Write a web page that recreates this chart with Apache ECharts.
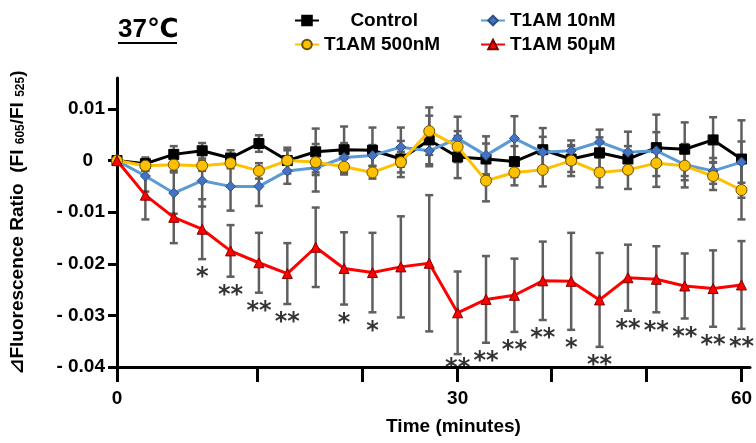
<!DOCTYPE html>
<html>
<head>
<meta charset="utf-8">
<script src="https://cdn.jsdelivr.net/npm/echarts@6/dist/echarts.min.js"></script>
<style>html,body{margin:0;background:#fff}#main{width:756px;height:443px}</style>
</head>
<body>
<div id="main"></div>
<script>
// time points (minutes), equally spaced on the plot
var times = [0, 2.5, 5, 7.5, 10, 12.5, 15, 17.5, 20, 22.5, 25, 27.5, 30, 33, 36, 39, 42, 45, 48, 51, 54, 57, 60];
var xTickLabels = [0, 30, 60];
var yTickValues = [-0.04, -0.03, -0.02, -0.01, 0, 0.01];

var control = [0, -0.0006, 0.0012, 0.0019, 0.0005, 0.0033, 0, 0.0017, 0.0021, 0.002, 0.0003, 0.004, 0.0007, 0.0003, -0.0002, 0.0021, 0.0003, 0.0015, 0.0003, 0.0025, 0.0022, 0.004, 0.0003];
var controlSD = [0, 0.0012, 0.0016, 0.0015, 0.0015, 0.0016, 0.0025, 0.0045, 0.0045, 0.0044, 0.0035, 0.0047, 0.0041, 0.003, 0.003, 0.0042, 0.0025, 0.003, 0.0025, 0.003, 0.0052, 0.0044, 0.0075];
var t1am10nM = [0, -0.003, -0.0063, -0.0039, -0.005, -0.005, -0.002, -0.0014, 0.0006, 0.001, 0.0026, 0.0019, 0.0043, 0.001, 0.0043, 0.0016, 0.0019, 0.0036, 0.0016, 0.0019, -0.0008, -0.002, -0.0003];
var t1am10nMSD = [0, 0.003, 0.004, 0.005, 0.0047, 0.0038, 0.0025, 0.0046, 0.0028, 0.002, 0.0038, 0.003, 0.0042, 0.0037, 0.0043, 0.003, 0.002, 0.0024, 0.004, 0.007, 0.003, 0.0025, 0.004];
var t1am500nM = [0, -0.001, -0.0008, -0.001, -0.0005, -0.002, 0, -0.0003, -0.0012, -0.0023, -0.0003, 0.0057, 0.0027, -0.0039, -0.0023, -0.0018, 0, -0.0023, -0.0018, -0.0005, -0.001, -0.003, -0.0057];
var t1am500nMSD = [0, 0.001, 0.0012, 0.001, 0.001, 0.0015, 0.002, 0.002, 0.0015, 0.0012, 0.002, 0.0046, 0.003, 0.004, 0.0025, 0.0032, 0.003, 0.0029, 0.0037, 0.0025, 0.0042, 0.0027, 0.0057];
var t1am50uM = [0, -0.0067, -0.011, -0.0133, -0.0175, -0.0198, -0.0219, -0.0168, -0.0209, -0.0217, -0.0206, -0.0199, -0.0295, -0.0269, -0.0261, -0.0233, -0.0234, -0.027, -0.0227, -0.023, -0.0243, -0.0248, -0.0241];
var t1am50uMSD = [0, 0.0047, 0.005, 0.0058, 0.005, 0.0058, 0.0059, 0.0077, 0.007, 0.0077, 0.0098, 0.0132, 0.008, 0.0084, 0.0071, 0.0076, 0.0094, 0.0091, 0.0064, 0.0064, 0.0063, 0.0074, 0.0085];
// significance vs control for 50uM
var sig50uM = ['', '', '', '*', '**', '**', '**', '', '*', '*', '', '', '**', '**', '**', '**', '*', '**', '**', '**', '**', '**', '**'];

var font = 'Liberation Sans, Arial, DejaVu Sans, Noto Sans CJK JP';
var starFloor = -0.0366; // keep stars above the x axis

function pts(arr) {
    return arr.map(function (v, i) { return [i, v]; });
}
function errData(mean, sd) {
    return mean.map(function (v, i) { return [i, v, sd[i]]; });
}
// error bars with caps
function errBar(params, api) {
    var sd = api.value(2);
    if (!sd) return null;
    var x = api.value(0), m = api.value(1);
    var top = api.coord([x, m + sd]);
    var bot = api.coord([x, m - sd]);
    var st = { stroke: '#5f5f5f', lineWidth: 2.5 };
    return {
        type: 'group',
        children: [
            { type: 'line', shape: { x1: top[0], y1: top[1], x2: bot[0], y2: bot[1] }, style: st },
            { type: 'line', shape: { x1: top[0] - 4, y1: top[1], x2: top[0] + 4, y2: top[1] }, style: st },
            { type: 'line', shape: { x1: bot[0] - 4, y1: bot[1], x2: bot[0] + 4, y2: bot[1] }, style: st }
        ]
    };
}
function errSeries(mean, sd) {
    return { type: 'custom', renderItem: errBar, data: errData(mean, sd), z: 1, silent: true };
}

var myChart = echarts.init(document.getElementById('main'));
myChart.setOption({
    animation: false,
    backgroundColor: '#fff',
    grid: { left: 117, right: 6, top: 78, bottom: 76 },
    graphic: [
        { type: 'text', left: 118, top: 17, style: { text: '37℃', font: 'bold 26px ' + font, fill: '#000' } },
        { type: 'line', shape: { x1: 118, y1: 43, x2: 177, y2: 43 }, style: { stroke: '#000', lineWidth: 2 } }
    ],
    legend: [
        {
            left: 289, top: 6, orient: 'vertical', itemGap: 5, itemWidth: 24, itemHeight: 12,
            data: ['Control', 'T1AM 500nM'],
            formatter: function (n) { return n === 'Control' ? '     Control' : n; },
            textStyle: { fontSize: 19, fontWeight: 'bold', color: '#000', fontFamily: font }
        },
        {
            left: 475, top: 6, orient: 'vertical', itemGap: 5, itemWidth: 24, itemHeight: 12,
            data: ['T1AM 10nM', 'T1AM 50μM'],
            textStyle: { fontSize: 19, fontWeight: 'bold', color: '#000', fontFamily: font }
        }
    ],
    xAxis: {
        type: 'value', min: 0, max: 22.3,
        name: 'Time (minutes)', nameLocation: 'middle', nameGap: 50,
        nameTextStyle: { fontSize: 19, fontWeight: 'bold', color: '#000', fontFamily: font, padding: [0, 0, 0, 40] },
        axisLine: { onZero: false, lineStyle: { color: '#000', width: 3 } },
        axisTick: { length: 15, lineStyle: { color: '#000', width: 3 }, customValues: [0, 4.95, 8.65, 12, 15.3, 18.65, 22] },
        axisLabel: {
            customValues: xTickLabels.map(function (t) { return times.indexOf(t); }),
            formatter: function (v) { return String(times[Math.round(v)]); },
            fontSize: 19, fontWeight: 'bold', color: '#000', fontFamily: font, margin: 22
        },
        splitLine: { show: false }
    },
    yAxis: {
        type: 'value', min: -0.04, max: 0.016,
        name: '{a|⊿Fluorescence Ratio  (FI }{s|605}{a|/FI }{s|525}{a|)}',
        nameLocation: 'middle', nameGap: 90,
        nameTextStyle: {
            rich: {
                a: { fontSize: 19, fontWeight: 'bold', color: '#000', fontFamily: font },
                s: { fontSize: 12, fontWeight: 'bold', color: '#000', fontFamily: font, verticalAlign: 'bottom' }
            }
        },
        axisLine: { show: true, onZero: false, lineStyle: { color: '#000', width: 3 } },
        axisTick: { show: true, length: 9, lineStyle: { color: '#000', width: 3 }, customValues: yTickValues },
        axisLabel: {
            customValues: yTickValues,
            formatter: function (v) {
                if (Math.abs(v) < 1e-9) return '{z|0}';
                return v < 0 ? '- ' + Math.abs(v).toFixed(2) : v.toFixed(2);
            },
            rich: { z: { fontSize: 19, fontWeight: 'bold', color: '#000', fontFamily: font, padding: [0, 12, 0, 0] } },
            fontSize: 19, fontWeight: 'bold', color: '#000', fontFamily: font, margin: 12
        },
        splitLine: { show: false }
    },
    series: [
        errSeries(control, controlSD),
        errSeries(t1am10nM, t1am10nMSD),
        errSeries(t1am500nM, t1am500nMSD),
        errSeries(t1am50uM, t1am50uMSD),
        {
            name: 'Control', type: 'line', data: pts(control), z: 3,
            symbol: 'rect', symbolSize: 10,
            lineStyle: { color: '#000', width: 3 },
            itemStyle: { color: '#000', borderColor: '#000', borderWidth: 1 }
        },
        {
            name: 'T1AM 10nM', type: 'line', data: pts(t1am10nM), z: 4,
            symbol: 'diamond', symbolSize: 10,
            lineStyle: { color: '#5B9BD5', width: 3 },
            itemStyle: { color: '#4472C4', borderColor: '#2F4F7F', borderWidth: 1 }
        },
        {
            name: 'T1AM 500nM', type: 'line', data: pts(t1am500nM), z: 5,
            symbol: 'circle', symbolSize: 11,
            lineStyle: { color: '#FFC000', width: 3 },
            itemStyle: { color: '#FFC000', borderColor: '#6b5200', borderWidth: 1 }
        },
        {
            name: 'T1AM 50μM', type: 'line', data: pts(t1am50uM), z: 6,
            symbol: 'triangle', symbolSize: 10,
            lineStyle: { color: '#FF0000', width: 3 },
            itemStyle: { color: '#FF0000', borderColor: '#800000', borderWidth: 1 }
        },
        {
            type: 'scatter', symbolSize: 0, z: 7, silent: true,
            data: t1am50uM.map(function (v, i) { return [i, Math.max(v - t1am50uMSD[i], starFloor), sig50uM[i]]; })
                .filter(function (d) { return d[2]; }),
            label: {
                show: true, position: 'bottom', distance: 7,
                formatter: function (p) { return p.data[2]; },
                fontSize: 24, fontWeight: 'bold', color: '#000', fontFamily: 'DejaVu Sans'
            }
        }
    ]
});
</script>
</body>
</html>
